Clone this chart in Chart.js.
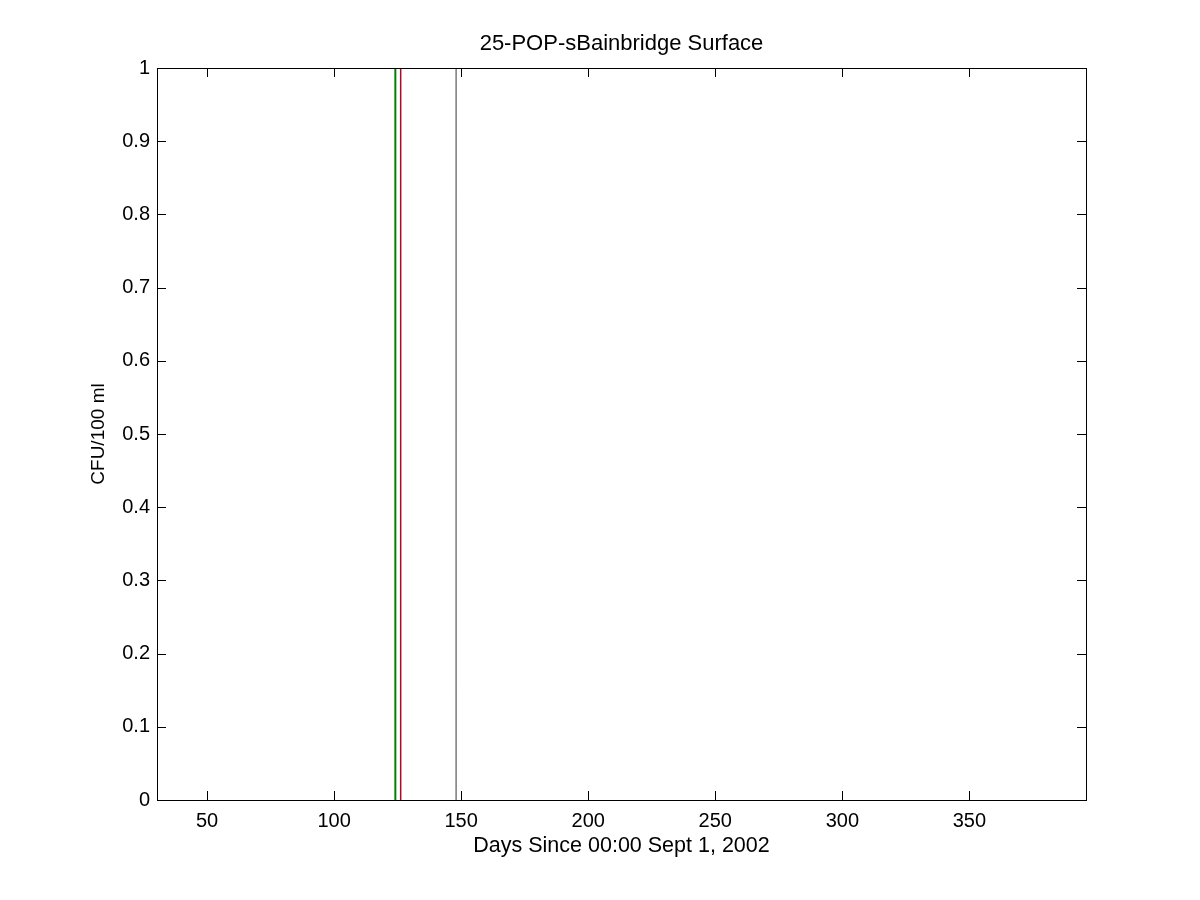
<!DOCTYPE html>
<html>
<head>
<meta charset="utf-8">
<script src="https://cdn.jsdelivr.net/npm/chart.js@4/dist/chart.umd.min.js"></script>
<style>
html,body{margin:0;padding:0;background:#fff;}
#wrap{width:1200px;height:900px;}
</style>
</head>
<body>
<div id="wrap"><canvas id="c" width="1200" height="900"></canvas></div>
<script>
// ---- data ----
const chartTitle = "25-POP-sBainbridge Surface";
const xTitle = "Days Since 00:00 Sept 1, 2002";
const yTitle = "CFU/100 ml";
const xRange = [30.3, 395.9];
const yRange = [0, 1];
const xTickValues = [50, 100, 150, 200, 250, 300, 350];
const yTickValues = [0, 0.1, 0.2, 0.3, 0.4, 0.5, 0.6, 0.7, 0.8, 0.9, 1];
// vertical event lines (day, from y=0 to y=1)
const greenDays = [124.1];
const redDays = [126.2];
const grayDays = [148.0];

function vlineData(days) {
  const pts = [];
  days.forEach(d => { pts.push({x: d, y: yRange[0]}); pts.push({x: d, y: yRange[1]}); pts.push({x: null, y: null}); });
  return pts;
}

const FONT = "'Liberation Sans', Arial, Helvetica, sans-serif";

const frameTicks = {
  id: 'frameTicks',
  afterDatasetsDraw(chart) {
    const {ctx, chartArea: a, scales} = chart;
    const L = 9;
    ctx.save();
    ctx.strokeStyle = '#000';
    ctx.lineWidth = 1;
    ctx.beginPath();
    scales.x.ticks.forEach(t => {
      const px = Math.round(scales.x.getPixelForValue(t.value)) + 0.5;
      ctx.moveTo(px, a.bottom); ctx.lineTo(px, a.bottom - L);
      ctx.moveTo(px, a.top); ctx.lineTo(px, a.top + L);
    });
    scales.y.ticks.forEach(t => {
      const py = Math.round(scales.y.getPixelForValue(t.value)) + 0.5;
      ctx.moveTo(a.left, py); ctx.lineTo(a.left + L, py);
      ctx.moveTo(a.right, py); ctx.lineTo(a.right - L, py);
    });
    ctx.stroke();
    ctx.strokeRect(Math.round(a.left) + 0.5, Math.round(a.top) + 0.5,
                   Math.round(a.right - a.left), Math.round(a.bottom - a.top));
    ctx.restore();
  }
};

new Chart(document.getElementById('c'), {
  type: 'scatter',
  data: {
    datasets: [
      {data: vlineData(greenDays), showLine: true, borderColor: 'rgb(0,128,0)', borderWidth: 2, pointRadius: 0, spanGaps: false},
      {data: vlineData(redDays), showLine: true, borderColor: 'rgb(175,10,45)', borderWidth: 1.5, pointRadius: 0, spanGaps: false},
      {data: vlineData(grayDays), showLine: true, borderColor: 'rgb(55,55,55)', borderWidth: 1, pointRadius: 0, spanGaps: false}
    ]
  },
  options: {
    responsive: false,
    animation: false,
    devicePixelRatio: 1,
    layout: {padding: {left: 0, right: 114, top: 0, bottom: 0}},
    plugins: {
      legend: {display: false},
      tooltip: {enabled: false},
      title: {
        display: true, fullSize: false, text: chartTitle, color: '#000',
        font: {family: FONT, size: 22, weight: 'normal', lineHeight: 1.2},
        padding: {top: 30.8, bottom: 10.8}
      }
    },
    scales: {
      x: {
        type: 'linear', min: xRange[0], max: xRange[1],
        afterBuildTicks(s) { s.ticks = xTickValues.map(v => ({value: v})); },
        afterFit(s) { s.height = 100; },
        grid: {display: false, drawTicks: false, tickLength: 0}, border: {display: false},
        ticks: {color: '#000', padding: 9, maxRotation: 0, font: {family: FONT, size: 20}, callback: v => String(v)},
        title: {display: true, text: xTitle, color: '#000', font: {family: FONT, size: 21.5, lineHeight: 1.2}, padding: {top: 0, bottom: 41.1}}
      },
      y: {
        type: 'linear', min: yRange[0], max: yRange[1],
        afterBuildTicks(s) { s.ticks = yTickValues.map(v => ({value: v})); },
        afterFit(s) { s.width = 157; },
        grid: {display: false, drawTicks: false, tickLength: 0}, border: {display: false},
        ticks: {color: '#000', padding: 7, font: {family: FONT, size: 20}, callback: v => String(Math.round(v * 10) / 10)},
        title: {display: true, text: yTitle, color: '#000', font: {family: FONT, size: 19, lineHeight: 1.2}, padding: {top: 87, bottom: 0}}
      }
    }
  },
  plugins: [frameTicks]
});
</script>
</body>
</html>
